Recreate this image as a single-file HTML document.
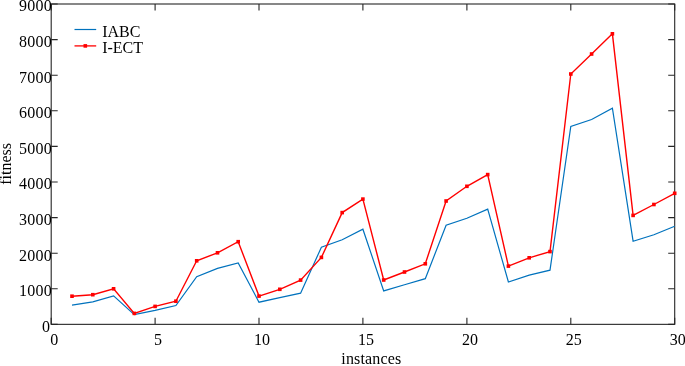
<!DOCTYPE html><html><head><meta charset="utf-8"><title>fitness</title><style>html,body{margin:0;padding:0;background:#fff}svg{display:block}text{font-family:"Liberation Serif",serif;fill:#000}</style></head><body>
<svg width="685" height="366" viewBox="0 0 685 366">
<rect width="685" height="366" fill="#fff"/>
<rect x="51.2" y="4.0" width="623.5" height="320.35" fill="none" stroke="#262626" stroke-width="1.1"/>
<path d="M51.2,324.35v-6.5M51.2,4.0v6.5M155.1,324.35v-6.5M155.1,4.0v6.5M259.0,324.35v-6.5M259.0,4.0v6.5M362.9,324.35v-6.5M362.9,4.0v6.5M466.9,324.35v-6.5M466.9,4.0v6.5M570.8,324.35v-6.5M570.8,4.0v6.5M674.7,324.35v-6.5M674.7,4.0v6.5M51.2,324.4h6.5M674.7,324.4h-6.5M51.2,288.8h6.5M674.7,288.8h-6.5M51.2,253.2h6.5M674.7,253.2h-6.5M51.2,217.6h6.5M674.7,217.6h-6.5M51.2,182.0h6.5M674.7,182.0h-6.5M51.2,146.4h6.5M674.7,146.4h-6.5M51.2,110.8h6.5M674.7,110.8h-6.5M51.2,75.2h6.5M674.7,75.2h-6.5M51.2,39.6h6.5M674.7,39.6h-6.5M51.2,4.0h6.5M674.7,4.0h-6.5" stroke="#262626" stroke-width="1.1" fill="none"/>
<polyline points="72.0,305.1 92.8,301.8 113.6,295.9 134.3,314.7 155.1,310.4 175.9,305.5 196.7,276.7 217.5,268.4 238.2,263.0 259.0,302.2 279.8,297.7 300.6,293.2 321.4,247.2 342.2,239.8 362.9,229.2 383.7,290.9 404.5,284.7 425.3,278.7 446.1,225.3 466.9,218.3 487.7,209.1 508.4,282.0 529.2,275.2 550.0,270.2 570.8,126.5 591.6,119.5 612.4,108.2 633.1,241.2 653.9,234.7 674.7,226.3" fill="none" stroke="#0072BD" stroke-width="1.2" stroke-linejoin="miter"/>
<polyline points="72.0,296.2 92.8,294.7 113.6,288.8 134.3,313.4 155.1,306.4 175.9,301.2 196.7,260.8 217.5,252.8 238.2,241.7 259.0,296.1 279.8,289.3 300.6,280.1 321.4,257.4 342.2,212.6 362.9,199.1 383.7,280.0 404.5,272.0 425.3,263.8 446.1,201.0 466.9,186.3 487.7,174.6 508.4,266.1 529.2,257.8 550.0,251.6 570.8,74.0 591.6,54.0 612.4,33.8 633.1,215.4 653.9,204.5 674.7,193.3" fill="none" stroke="#FF0000" stroke-width="1.4" stroke-linejoin="miter"/>
<rect x="70.2" y="294.4" width="3.6" height="3.6" fill="#FF0000"/>
<rect x="91.0" y="292.9" width="3.6" height="3.6" fill="#FF0000"/>
<rect x="111.8" y="287.0" width="3.6" height="3.6" fill="#FF0000"/>
<rect x="132.5" y="311.6" width="3.6" height="3.6" fill="#FF0000"/>
<rect x="153.3" y="304.6" width="3.6" height="3.6" fill="#FF0000"/>
<rect x="174.1" y="299.4" width="3.6" height="3.6" fill="#FF0000"/>
<rect x="194.9" y="259.0" width="3.6" height="3.6" fill="#FF0000"/>
<rect x="215.7" y="251.0" width="3.6" height="3.6" fill="#FF0000"/>
<rect x="236.4" y="239.9" width="3.6" height="3.6" fill="#FF0000"/>
<rect x="257.2" y="294.3" width="3.6" height="3.6" fill="#FF0000"/>
<rect x="278.0" y="287.5" width="3.6" height="3.6" fill="#FF0000"/>
<rect x="298.8" y="278.3" width="3.6" height="3.6" fill="#FF0000"/>
<rect x="319.6" y="255.6" width="3.6" height="3.6" fill="#FF0000"/>
<rect x="340.4" y="210.8" width="3.6" height="3.6" fill="#FF0000"/>
<rect x="361.1" y="197.3" width="3.6" height="3.6" fill="#FF0000"/>
<rect x="381.9" y="278.2" width="3.6" height="3.6" fill="#FF0000"/>
<rect x="402.7" y="270.2" width="3.6" height="3.6" fill="#FF0000"/>
<rect x="423.5" y="262.0" width="3.6" height="3.6" fill="#FF0000"/>
<rect x="444.3" y="199.2" width="3.6" height="3.6" fill="#FF0000"/>
<rect x="465.1" y="184.5" width="3.6" height="3.6" fill="#FF0000"/>
<rect x="485.9" y="172.8" width="3.6" height="3.6" fill="#FF0000"/>
<rect x="506.6" y="264.3" width="3.6" height="3.6" fill="#FF0000"/>
<rect x="527.4" y="256.0" width="3.6" height="3.6" fill="#FF0000"/>
<rect x="548.2" y="249.8" width="3.6" height="3.6" fill="#FF0000"/>
<rect x="569.0" y="72.2" width="3.6" height="3.6" fill="#FF0000"/>
<rect x="589.8" y="52.2" width="3.6" height="3.6" fill="#FF0000"/>
<rect x="610.6" y="32.0" width="3.6" height="3.6" fill="#FF0000"/>
<rect x="631.3" y="213.6" width="3.6" height="3.6" fill="#FF0000"/>
<rect x="652.1" y="202.7" width="3.6" height="3.6" fill="#FF0000"/>
<rect x="672.9" y="191.5" width="3.6" height="3.6" fill="#FF0000"/>
<text x="50.0" y="331.8" font-size="16" text-anchor="end" letter-spacing="0">0</text>
<text x="52.0" y="296.2" font-size="16" text-anchor="end" letter-spacing="0.25">1000</text>
<text x="52.0" y="260.6" font-size="16" text-anchor="end" letter-spacing="0.25">2000</text>
<text x="52.0" y="225.0" font-size="16" text-anchor="end" letter-spacing="0.25">3000</text>
<text x="52.0" y="189.4" font-size="16" text-anchor="end" letter-spacing="0.25">4000</text>
<text x="52.0" y="153.8" font-size="16" text-anchor="end" letter-spacing="0.25">5000</text>
<text x="52.0" y="118.2" font-size="16" text-anchor="end" letter-spacing="0.25">6000</text>
<text x="52.0" y="82.6" font-size="16" text-anchor="end" letter-spacing="0.25">7000</text>
<text x="52.0" y="47.0" font-size="16" text-anchor="end" letter-spacing="0.25">8000</text>
<text x="52.0" y="11.4" font-size="16" text-anchor="end" letter-spacing="0.25">9000</text>
<text x="54.2" y="344.8" font-size="16" text-anchor="middle">0</text>
<text x="158.1" y="344.8" font-size="16" text-anchor="middle">5</text>
<text x="262.0" y="344.8" font-size="16" text-anchor="middle">10</text>
<text x="365.9" y="344.8" font-size="16" text-anchor="middle">15</text>
<text x="469.9" y="344.8" font-size="16" text-anchor="middle">20</text>
<text x="573.8" y="344.8" font-size="16" text-anchor="middle">25</text>
<text x="677.7" y="344.8" font-size="16" text-anchor="middle">30</text>
<text x="341.3" y="364.4" font-size="16" letter-spacing="0.15">instances</text>
<text transform="translate(11,163.9) rotate(-90)" font-size="16" text-anchor="middle">fitness</text>
<path d="M74.5,29.5h21.7" stroke="#0072BD" stroke-width="1.2"/>
<path d="M74.5,45.9h21.7" stroke="#FF0000" stroke-width="1.3"/><rect x="83.5" y="44.1" width="3.6" height="3.6" fill="#FF0000"/>
<text x="102.2" y="36.9" font-size="16">IABC</text>
<text x="102.2" y="52.6" font-size="16">I-ECT</text>
</svg></body></html>
